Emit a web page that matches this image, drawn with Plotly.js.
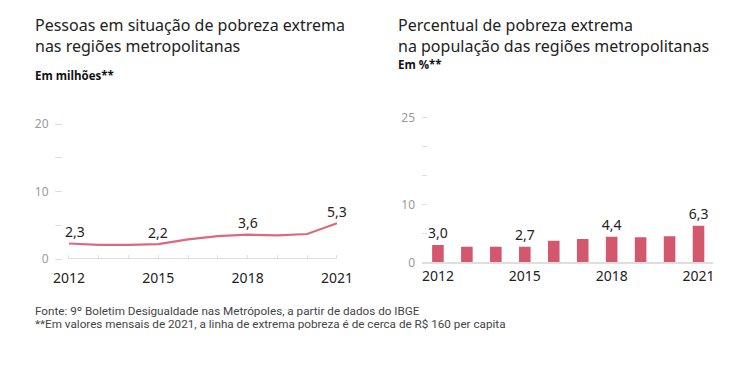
<!DOCTYPE html>
<html><head><meta charset="utf-8">
<script src="https://cdn.plot.ly/plotly-3.0.1.min.js"></script>
<style>html,body{margin:0;padding:0;background:#fff}#chart{width:746px;height:372px}</style>
</head><body><div id="chart"></div>
<script>
const years = [2012, 2013, 2014, 2015, 2016, 2017, 2018, 2019, 2020, 2021];
const peopleMillions = [2.3, 2.1, 2.1, 2.2, 2.9, 3.4, 3.6, 3.5, 3.7, 5.3];
const percentExtreme = [3.0, 2.7, 2.7, 2.7, 3.7, 4.0, 4.4, 4.3, 4.5, 6.3];
const labeledYears = [2012, 2015, 2018, 2021];
const leftYTickVals = [0, 5, 10, 15, 20];
const leftYTickText = ['0', '', '10', '', '20'];
const rightYTickVals = [0, 5, 10, 15, 20, 25];
const rightYTickText = ['0', '', '10', '', '', '25'];
const leftTitle = ['Pessoas em situação de pobreza extrema', 'nas regiões metropolitanas'];
const leftSubtitle = 'Em milhões**';
const rightTitle = ['Percentual de pobreza extrema', 'na população das regiões metropolitanas'];
const rightSubtitle = 'Em %**';
const footnotes = ['Fonte: 9º Boletim Desigualdade nas Metrópoles, a partir de dados do IBGE',
  '**Em valores mensais de 2021, a linha de extrema pobreza é de cerca de R$ 160 per capita'];

const W = 746, H = 372;
const px = x => x / W;
const py = y => 1 - y / H;
const fmt = v => v.toFixed(1).replace('.', ',');
const xTickText = years.map(y => labeledYears.includes(y) ? String(y) : '');

const FONT = 'Noto Sans, Open Sans, sans-serif';
const lineColor = '#da6a7e';
const barColor = '#d3586d';
const axisGray = '#dedede';

const traces = [
  {
    type: 'scatter', mode: 'lines', x: years, y: peopleMillions,
    xaxis: 'x', yaxis: 'y', line: {color: lineColor, width: 2.2}, hoverinfo: 'skip', cliponaxis: false
  },
  {
    type: 'bar', x: years, y: percentExtreme, xaxis: 'x2', yaxis: 'y2', width: 0.4,
    marker: {color: barColor, line: {width: 0}},
    text: years.map((y, i) => labeledYears.includes(y) ? fmt(percentExtreme[i]) : ''),
    textposition: 'outside', cliponaxis: false, constraintext: 'none',
    textfont: {family: FONT, size: 14, color: '#222'}, hoverinfo: 'skip'
  }
];

const annotations = [];
years.forEach((y, i) => {
  if (labeledYears.includes(y)) {
    annotations.push({
      xref: 'x', yref: 'y', x: y, y: peopleMillions[i], text: fmt(peopleMillions[i]),
      showarrow: false, yshift: 12, xshift: i === 0 ? 6 : 0,
      font: {family: FONT, size: 14, color: '#222'}
    });
  }
});
function paperText(text, x, y, size, color, bold, family) {
  annotations.push({
    xref: 'paper', yref: 'paper', x: px(x), y: py(y), xanchor: 'left', yanchor: 'middle', align: 'left',
    text: bold ? '<b>' + text + '</b>' : text, showarrow: false,
    font: {family: family || FONT, size: size, color: color}
  });
}
paperText(leftTitle.join('<br>'), 33, 35.5, 16, '#222');
paperText(leftSubtitle, 33, 75, 11.5, '#111', true, 'Open Sans, sans-serif');
paperText(rightTitle.join('<br>'), 396, 35.5, 16, '#222');
paperText(rightSubtitle, 396, 64, 11.5, '#111', true, 'Open Sans, sans-serif');
paperText(footnotes[0], 33, 311, 11.7, '#444', false, 'Roboto, sans-serif');
paperText(footnotes[1], 33, 323.5, 11.7, '#444', false, 'Roboto, sans-serif');

const layout = {
  width: W, height: H, margin: {l: 0, r: 0, t: 0, b: 0},
  paper_bgcolor: '#fff', plot_bgcolor: '#fff', showlegend: false,
  font: {family: FONT},
  xaxis: {
    domain: [px(63), px(345)], range: [2011.8, 2021.27], anchor: 'y',
    tickvals: years, ticktext: xTickText, ticks: 'inside', ticklen: 4, tickcolor: axisGray, tickwidth: 1,
    tickfont: {family: FONT, size: 14, color: '#222'}, ticklabelstandoff: 9,
    showgrid: false, zeroline: false, showline: false, fixedrange: true
  },
  yaxis: {
    domain: [py(259), py(110.5)], range: [0, 22], anchor: 'x',
    tickvals: leftYTickVals, ticktext: leftYTickText, ticks: 'outside', ticklen: 7, tickcolor: axisGray,
    tickfont: {family: FONT, size: 12, color: '#9a9a9a'}, ticklabelstandoff: 4,
    showgrid: false, zeroline: false, showline: false, fixedrange: true
  },
  xaxis2: {
    domain: [px(422), px(713)], range: [2011.45, 2021.5], anchor: 'y2',
    tickvals: years, ticktext: xTickText, ticks: '',
    tickfont: {family: FONT, size: 14, color: '#222'}, ticklabelstandoff: 0,
    showgrid: false, zeroline: false, showline: true, linecolor: axisGray, linewidth: 2, fixedrange: true
  },
  yaxis2: {
    domain: [py(262.3), py(111.5)], range: [0, 26], anchor: 'x2',
    tickvals: rightYTickVals, ticktext: rightYTickText, ticks: 'inside', ticklen: 5, tickcolor: axisGray,
    tickfont: {family: FONT, size: 12, color: '#9a9a9a'}, ticklabelstandoff: 6,
    showgrid: false, zeroline: false, showline: false, fixedrange: true
  },
  shapes: [{
    type: 'line', xref: 'x', yref: 'y', x0: years[0], x1: years[years.length - 1], y0: 0, y1: 0,
    line: {color: axisGray, width: 2}, layer: 'below'
  }],
  annotations: annotations
};
Plotly.newPlot('chart', traces, layout, {displayModeBar: false, staticPlot: true});
</script></body></html>
